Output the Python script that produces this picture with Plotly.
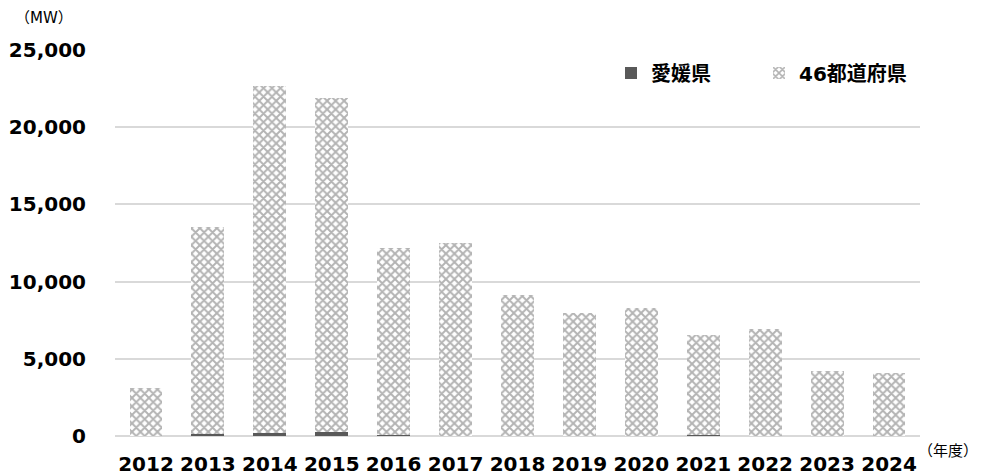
import plotly.graph_objects as go

years = ["2012", "2013", "2014", "2015", "2016", "2017", "2018", "2019", "2020", "2021", "2022", "2023", "2024"]
ehime = [20, 130, 210, 280, 40, 30, 30, 25, 25, 50, 25, 20, 20]
total = [3120, 13550, 22650, 21900, 12190, 12470, 9120, 7980, 8260, 6570, 6940, 4240, 4100]
others = [t - e for t, e in zip(total, ehime)]

# page body has an 8px default margin; lay out in page pixels and compensate
OFF = 8
W, H = 981 - OFF, 475 - OFF
PL, PR, PT, PB = 115, 920, 50, 436.5   # plot area in page pixels
L, T = PL - OFF, PT - OFF
R = W - (PR - OFF)
B = H - (PB - OFF)
pw = PR - PL
ph = PB - PT


def px(xp):
    return (xp - PL) / pw


def py(yp):
    return (PB - yp) / ph


FONT = "DejaVu Sans, Noto Sans CJK JP, sans-serif"

fig = go.Figure()
fig.add_trace(go.Bar(
    x=years, y=ehime, name="<b>愛媛県</b>", legend="legend", showlegend=True,
    marker=dict(color="#595959", line=dict(width=0)),
))
fig.add_trace(go.Bar(
    x=years, y=others, name="<b>46都道府県</b>", legend="legend2", showlegend=True,
    marker=dict(color="#ffffff", line=dict(width=0),
                pattern=dict(shape="x", fgcolor="#676767", bgcolor="#ffffff",
                             size=6, solidity=0.55, fillmode="overlay")),
))

leg_common = dict(
    orientation="h", xanchor="left", yanchor="middle", visible=True,
    font=dict(size=20, family=FONT, color="#000000"),
    itemwidth=30, bgcolor="rgba(0,0,0,0)",
)

fig.update_layout(
    showlegend=True,
    barmode="stack",
    bargap=0.47,
    width=W, height=H,
    margin=dict(l=L, r=R, t=T, b=B, pad=0, autoexpand=False),
    paper_bgcolor="white", plot_bgcolor="white",
    font=dict(family=FONT, color="#000000"),
    legend=dict(x=px(611), y=py(73), **leg_common),
    legend2=dict(x=px(759), y=py(73), **leg_common),
    xaxis=dict(
        type="category", showgrid=False, showline=False, ticks="", automargin=False,
        tickfont=dict(size=20, family=FONT, color="#000000", weight="bold"),
        ticklabelstandoff=14,
    ),
    yaxis=dict(
        range=[0, 25000], tickvals=[0, 5000, 10000, 15000, 20000, 25000],
        ticktext=["0", "5,000", "10,000", "15,000", "20,000", "25,000"],
        showgrid=True, gridcolor="#d9d9d9", gridwidth=1.5,
        zeroline=True, zerolinecolor="#d9d9d9", zerolinewidth=1.5,
        showline=False, ticks="", automargin=False,
        tickfont=dict(size=20, family=FONT, color="#000000", weight="bold"),
        ticklabelstandoff=28,
    ),
    annotations=[
        dict(text="（MW）", xref="paper", yref="paper",
             x=px(44), y=py(18), xanchor="center", yanchor="middle",
             showarrow=False, font=dict(size=15, family=FONT, color="#000000")),
        dict(text="（年度）", xref="paper", yref="paper",
             x=px(948), y=py(452), xanchor="center", yanchor="middle",
             showarrow=False, font=dict(size=15, family=FONT, color="#000000")),
    ],
)

fig.write_html("out.html")
